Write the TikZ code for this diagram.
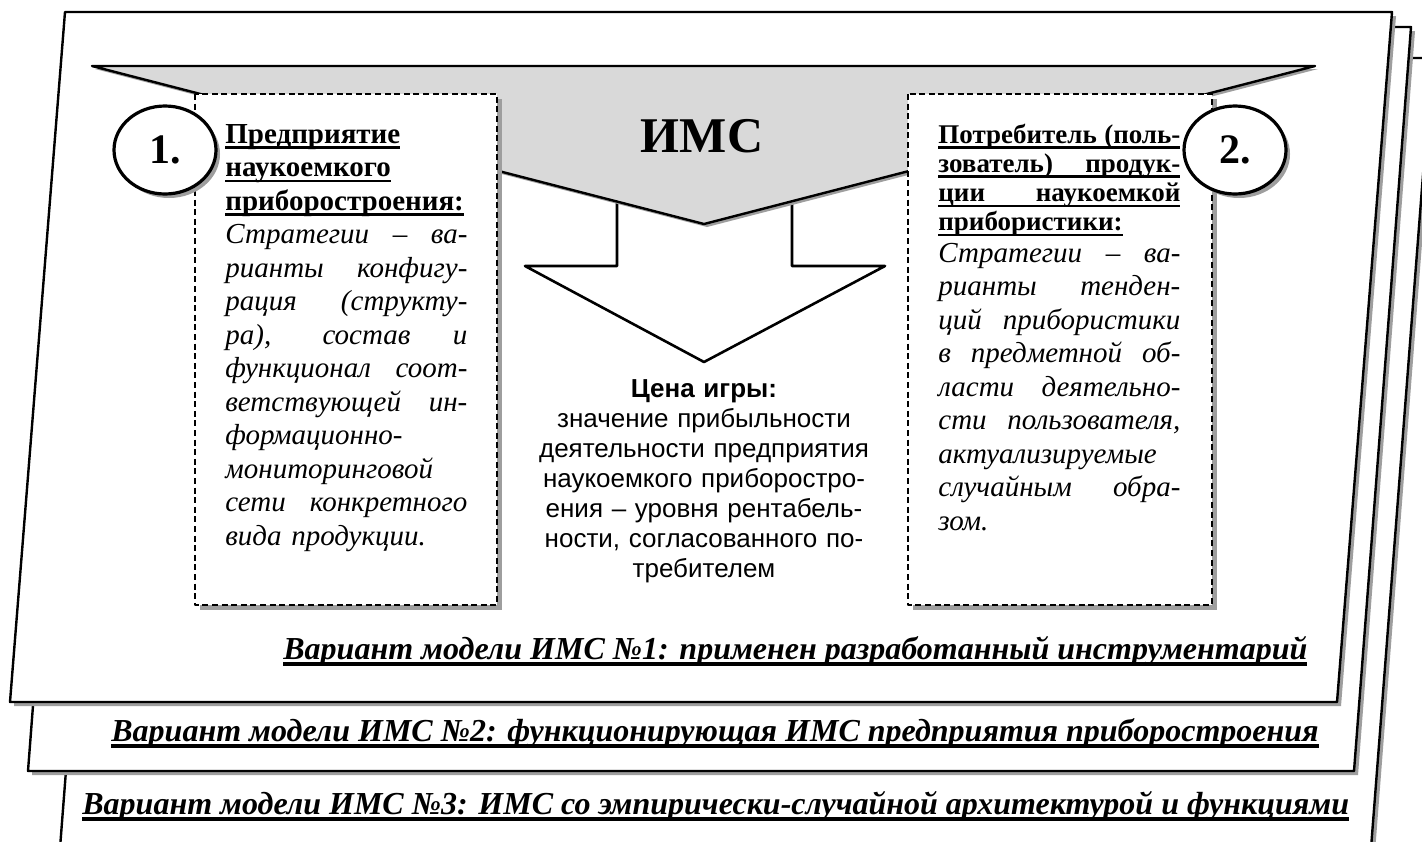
\documentclass[tikz,border=0pt]{standalone}
\usepackage{fontspec}
\setmainfont{Liberation Serif}
\newfontfamily\arialfont{Liberation Sans}
\usetikzlibrary{shadows,shapes.geometric}

\definecolor{bannergray}{gray}{0.85}
\definecolor{shadowgray}{gray}{0.62}

% underlined line and justified line
\newcommand\ulbox[2][1.3pt]{\leavevmode\setbox0\hbox{#2}%
  \rlap{\rule[\dimexpr-1.6pt-#1\relax]{\wd0}{#1}}\box0}
\newcommand\jline[1]{{\spaceskip=0pt\xspaceskip=0pt\makebox[\linewidth][s]{#1}}}

\begin{document}
\begin{tikzpicture}[x = 0.5pt,
    y = -0.5pt,
    line join = round]
    % styles of pages, boxes and labels
    \tikzset{pagestyle/.style={draw=black,fill=white,line width=1.2pt,
        drop shadow={shadow xshift=2pt,shadow yshift=-2pt,fill=shadowgray,opacity=1}},
      boxstyle/.style={draw=black,fill=white,line width=1pt,dash pattern=on 3pt off 1.8pt,
        drop shadow={shadow xshift=2.5pt,shadow yshift=-2.5pt,fill=shadowgray,opacity=1}},
      numstyle/.style={ellipse,draw=black,fill=white,line width=1.6pt,inner sep=0pt,
        minimum width=51pt,minimum height=44pt,font=\fontsize{21}{24}\selectfont\bfseries,
        drop shadow={shadow xshift=2pt,shadow yshift=-2pt,fill=shadowgray,opacity=1}},
      boxtext/.style={anchor=base west,inner sep=0pt,text width=121pt,align=left,
        font=\fontsize{14.5}{16.75}\selectfont},
      varianttext/.style={anchor=base west,inner sep=0pt,
        font=\fontsize{16}{18}\selectfont\bfseries\itshape}}
    \useasboundingbox (0,0) rectangle (1422,841);
    \clip (0,0) rectangle (1422,841);
    % page "back"
    \draw[pagestyle] (121,58) -- (1432,58) -- (1367,900) -- (56,900) -- cycle;
    % page "middle"
    \draw[pagestyle] (85,27) -- (1411,27) -- (1354,771) -- (28,771) -- cycle;
    % page "front"
    \draw[pagestyle] (65,12) -- (1392,12) -- (1337,702) -- (10,702) -- cycle;
    % arrow down
    \draw[fill=white,line width=1.3pt]
    (617,185) -- (617,266) -- (525,266) -- (704,362) --
    (885,266) -- (792,266) -- (792,185) -- cycle;
    % banner
    \draw[fill=bannergray,line width=1.2pt,
      drop shadow={shadow xshift=1.5pt,shadow yshift=-1.5pt,fill=shadowgray,opacity=1}]
    (92,66) -- (1315,66) -- (704,224) -- cycle;
    \node[anchor=base,inner sep=0pt,font=\fontsize{25}{30}\selectfont\bfseries]
    (ims) at (702,152) {ИМС};
    % boxes
    \draw[boxstyle] (195,94) rectangle (497,605);
    \draw[boxstyle] (908,94) rectangle (1212,605);
    % numbers
    \node[numstyle] (one) at (165,150) {1.};
    \node[numstyle] (two) at (1235,150) {2.};
    % labels
    \node[boxtext] (firm) at (225,143) {%
      \ulbox{\bfseries Предприятие}\\
      \ulbox{\bfseries наукоемкого}\\
      \ulbox{\bfseries приборостроения:}\\
      \itshape\jline{Стратегии – ва-}\\
      \jline{рианты конфигу-}\\
      \jline{рация (структу-}\\
      \jline{ра), состав и}\\
      \jline{функционал соот-}\\
      \jline{ветствующей ин-}\\
      формационно-\\
      мониторинговой\\
      \jline{сети конкретного}\\
      вида продукции.};
    \node[boxtext,font=\fontsize{13.5}{14.6}\selectfont\bfseries] (user) at (938,143) {%
      \ulbox{\jline{Потребитель (поль-}}\\
      \ulbox{\jline{зователь) продук-}}\\
      \ulbox{\jline{ции наукоемкой}}\\
      \ulbox{прибористики:}};
    \node[boxtext,font=\fontsize{14.5}{16.75}\selectfont\itshape] (userplan) at (938,262) {%
      \jline{Стратегии – ва-}\\
      \jline{рианты тенден-}\\
      \jline{ций прибористики}\\
      \jline{в предметной об-}\\
      \jline{ласти деятельно-}\\
      \jline{сти пользователя,}\\
      актуализируемые\\
      \jline{случайным обра-}\\
      зом.};
    \node[anchor=base,inner sep=0pt,text width=170pt,align=center,
      font=\arialfont\fontsize{13}{15}\selectfont]
    (price) at (704,397) {%
      \textbf{Цена игры:}\\
      значение прибыльности\\
      деятельности предприятия\\
      наукоемкого приборостро-\\
      ения – уровня рентабель-\\
      ности, согласованного по-\\
      требителем};
    \node[varianttext] (var1) at (283,659)
    {\ulbox[2pt]{Вариант модели ИМС №1: применен разработанный инструментарий}};
    \node[varianttext] (var2) at (111,741)
    {\ulbox[2pt]{Вариант модели ИМС №2: функционирующая ИМС предприятия приборостроения}};
    \node[varianttext] (var3) at (82,814)
    {\ulbox[2pt]{Вариант модели ИМС №3: ИМС со эмпирически-случайной архитектурой и функциями}};
\end{tikzpicture}
\end{document}
